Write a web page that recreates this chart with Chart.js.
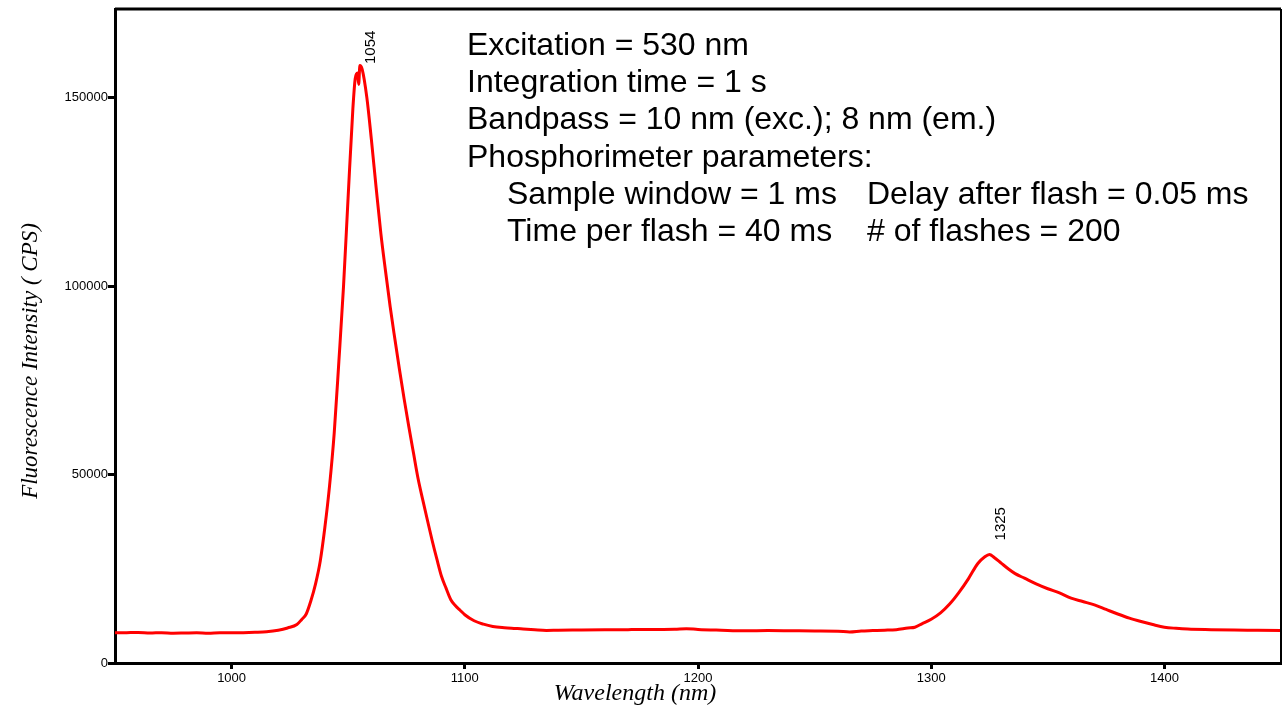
<!DOCTYPE html>
<html>
<head>
<meta charset="utf-8">
<script src="https://cdn.jsdelivr.net/npm/chart.js@4"></script>
<style>
  html, body { margin: 0; padding: 0; background: #fff; }
  #wrap { width: 1283px; height: 709px; }
</style>
</head>
<body>
<div id="wrap"><canvas id="spectrum" width="1283" height="709"></canvas></div>
<script>
/* emission spectrum data */
const WAVELENGTHS = [
    950, 955, 960, 965, 970, 975, 980, 985, 990, 995,
    1000, 1005, 1010, 1015, 1020, 1024, 1028, 1030, 1032, 1034,
    1036, 1038, 1040, 1042, 1044, 1046, 1048, 1050, 1052, 1053,
    1054, 1054.5, 1055, 1056, 1058, 1060, 1062, 1064, 1066, 1068,
    1070, 1072, 1074, 1076, 1078, 1080, 1082, 1084, 1086, 1088,
    1090, 1092, 1094, 1096, 1098, 1100, 1104, 1108, 1112, 1116,
    1120, 1125, 1130, 1135, 1140, 1150, 1160, 1170, 1180, 1190,
    1195, 1200, 1210, 1220, 1230, 1240, 1250, 1260, 1265, 1270,
    1275, 1280, 1285, 1290, 1293, 1296, 1300, 1304, 1308, 1312,
    1316, 1320, 1323, 1325, 1327, 1330, 1333, 1336, 1340, 1345,
    1350, 1355, 1360, 1365, 1370, 1375, 1380, 1385, 1390, 1395,
    1400, 1405, 1410, 1420, 1430, 1440, 1450
];
const INTENSITY = [
    8000, 8050, 8100, 7950, 8050, 7900, 7950, 8000, 7900, 8000,
    8000, 8050, 8150, 8300, 8700, 9300, 10200, 11500, 13000, 16500,
    21000, 27000, 36000, 47000, 61000, 80000, 100000, 124000, 147000, 155000,
    156500, 153500, 158500, 157500, 150000, 138500, 126000, 114000, 104000, 94500,
    86000, 77800, 70000, 62700, 55700, 48800, 43200, 37800, 32500, 27600,
    23000, 19800, 16800, 15200, 14000, 12800, 11200, 10300, 9700, 9400,
    9250, 9000, 8800, 8650, 8700, 8750, 8800, 8850, 8900, 8950,
    9100, 8900, 8700, 8550, 8600, 8550, 8500, 8450, 8250, 8500,
    8600, 8700, 8850, 9300, 9500, 10400, 11600, 13300, 15700, 18800,
    22400, 26400, 28200, 28800, 28000, 26500, 25000, 23700, 22500, 21000,
    19700, 18600, 17200, 16300, 15400, 14200, 13000, 11900, 11000, 10200,
    9500, 9200, 9000, 8850, 8750, 8700, 8650
];
const PEAK_LABELS = ['1054', '1325'];
const PEAK_POSITIONS = [1055, 1325];
const X_TICKS = [1000, 1100, 1200, 1300, 1400];
const Y_TICKS = [0, 50000, 100000, 150000];
const NOTES = [
    'Excitation = 530 nm',
    'Integration time = 1 s',
    'Bandpass = 10 nm (exc.); 8 nm (em.)',
    'Phosphorimeter parameters:'
];
const PARAMS = [
    ['Sample window = 1 ms', 'Delay after flash = 0.05 ms'],
    ['Time per flash = 40 ms', '# of flashes = 200']
];

const SANS = "'Liberation Sans', Arial, sans-serif";
const SERIF = "'Liberation Serif', 'Times New Roman', serif";

// box, axis titles, notes and peak labels
const decorations = {
    id: 'decorations',
    afterDraw(chart) {
        const ctx = chart.ctx;
        const area = chart.chartArea;
        const xs = chart.scales.x;
        const ys = chart.scales.y;
        ctx.save();
        ctx.strokeStyle = '#000';
        ctx.lineWidth = 3;
        ctx.beginPath();
        ctx.moveTo(area.left, area.top);
        ctx.lineTo(area.right, area.top);
        ctx.stroke();
        ctx.lineWidth = 2;
        ctx.beginPath();
        ctx.moveTo(area.right, area.top);
        ctx.lineTo(area.right, area.bottom);
        ctx.stroke();

        ctx.fillStyle = '#000';
        ctx.font = 'italic 24px ' + SERIF;
        ctx.textAlign = 'center';
        ctx.textBaseline = 'alphabetic';
        ctx.fillText('Wavelength (nm)', 635, 700);
        ctx.save();
        ctx.translate(37, 361);
        ctx.rotate(-Math.PI / 2);
        ctx.font = 'italic 23px ' + SERIF;
        ctx.fillText('Fluorescence Intensity ( CPS)', 0, 0);
        ctx.restore();

        ctx.font = '32px ' + SANS;
        ctx.textAlign = 'left';
        NOTES.forEach((line, i) => {
            ctx.fillText(line, 467, 55 + i * 37.2);
        });
        PARAMS.forEach((pair, i) => {
            const y = 55 + (NOTES.length + i) * 37.2;
            ctx.fillText(pair[0], 507, y);
            ctx.fillText(pair[1], 867, y);
        });

        const gaps = [1.5, 14];
        ctx.font = '15px ' + SANS;
        ctx.textBaseline = 'middle';
        PEAK_LABELS.forEach((label, i) => {
            const idx = WAVELENGTHS.indexOf(PEAK_POSITIONS[i]);
            const px = xs.getPixelForValue(PEAK_POSITIONS[i]);
            const py = ys.getPixelForValue(INTENSITY[idx]);
            ctx.save();
            ctx.translate(px + 11, py - gaps[i]);
            ctx.rotate(-Math.PI / 2);
            ctx.fillText(label, 0, 0);
            ctx.restore();
        });
        ctx.restore();
    }
};

const options = {
    responsive: false,
    animation: false,
    devicePixelRatio: 1,
    layout: {
        padding: { top: 9, right: 2, left: 0, bottom: 0 }
    },
    scales: {
        x: {
            type: 'linear',
            min: 950,
            max: 1450,
            afterBuildTicks: (scale) => {
                scale.ticks = X_TICKS.map(v => ({ value: v }));
            },
            afterFit: (scale) => { scale.height = 46; },
            ticks: {
                color: '#000',
                font: { family: SANS, size: 13 },
                padding: 2,
                maxRotation: 0,
                callback: (v) => String(v)
            },
            grid: {
                drawOnChartArea: false,
                drawTicks: true,
                tickLength: 6,
                tickWidth: 3,
                tickColor: '#000'
            },
            border: { display: true, color: '#000', width: 3 }
        },
        y: {
            type: 'linear',
            min: 0,
            max: 173500,
            afterBuildTicks: (scale) => {
                scale.ticks = Y_TICKS.map(v => ({ value: v }));
            },
            afterFit: (scale) => { scale.width = 115; },
            ticks: {
                color: '#000',
                font: { family: SANS, size: 13 },
                padding: 0,
                callback: (v) => String(v)
            },
            grid: {
                drawOnChartArea: false,
                drawTicks: true,
                tickLength: 7,
                tickWidth: 3,
                tickColor: '#000'
            },
            border: { display: true, color: '#000', width: 3 }
        }
    },
    plugins: {
        legend: { display: false },
        tooltip: { enabled: false }
    },
    elements: {
        point: { radius: 0 },
        line: {
            borderWidth: 3,
            borderColor: '#ff0000',
            cubicInterpolationMode: 'monotone'
        }
    }
};

const data = {
    datasets: [{
        label: 'Emission',
        data: WAVELENGTHS.map((w, i) => ({ x: w, y: INTENSITY[i] })),
        borderColor: '#ff0000',
        fill: false
    }]
};

const ctx = document.getElementById('spectrum');
const spectrumChart = new Chart(ctx, {
    type: 'line',
    data,
    options,
    plugins: [decorations]
});
</script>
</body>
</html>
